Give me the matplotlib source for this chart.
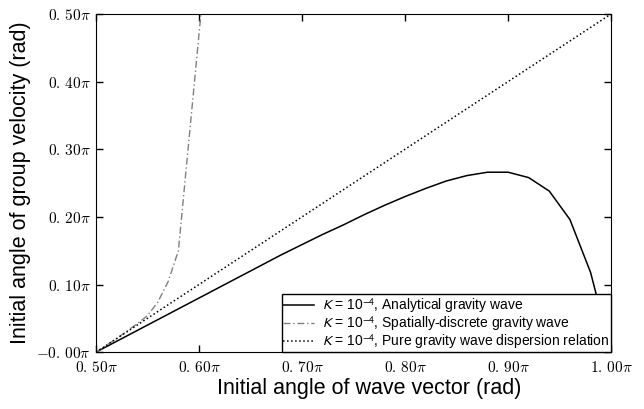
import matplotlib
matplotlib.use("Agg")
import matplotlib.pyplot as plt
from matplotlib.font_manager import FontProperties

plt.rcParams['font.family'] = ['Liberation Sans', 'DejaVu Sans']
plt.rcParams['mathtext.fontset'] = 'cm'

# analytical gravity wave (units of pi)
x_ana = [0.50, 0.52, 0.54, 0.56, 0.58, 0.60, 0.62, 0.64, 0.66, 0.68, 0.70,
         0.72, 0.74, 0.76, 0.78, 0.80, 0.82, 0.84, 0.86, 0.88, 0.90, 0.92,
         0.94, 0.96, 0.98, 1.00]
y_ana = [0.0, 0.016, 0.032, 0.048, 0.064, 0.080, 0.096, 0.112, 0.128, 0.144,
         0.159, 0.174, 0.188, 0.203, 0.217, 0.230, 0.242, 0.253, 0.261, 0.266,
         0.266, 0.258, 0.238, 0.196, 0.118, 0.0]

# spatially-discrete gravity wave
x_disc = [0.50, 0.51, 0.52, 0.53, 0.54, 0.55, 0.56, 0.57, 0.58, 0.59, 0.60, 0.605]
y_disc = [0.0, 0.010, 0.020, 0.031, 0.042, 0.054, 0.074, 0.104, 0.150, 0.310, 0.470, 0.55]

# pure gravity wave dispersion relation
x_pure = [0.50, 1.00]
y_pure = [0.0, 0.50]

xticks = [0.5, 0.6, 0.7, 0.8, 0.9, 1.0]
xticklabels = [r'$0.\,50\pi$', r'$0.\,60\pi$', r'$0.\,70\pi$', r'$0.\,80\pi$',
               r'$0.\,90\pi$', r'$1.\,00\pi$']
yticks = [0.0, 0.1, 0.2, 0.3, 0.4, 0.5]
yticklabels = [r'$-0.\,00\pi$', r'$0.\,10\pi$', r'$0.\,20\pi$', r'$0.\,30\pi$',
               r'$0.\,40\pi$', r'$0.\,50\pi$']

fig = plt.figure(figsize=(6.44, 4.09), dpi=100)
ax = fig.add_axes([0.149, 0.139, 0.800, 0.827])

ax.plot(x_ana, y_ana, 'k-', lw=1.1,
        label=r'$K$ = 10$^{-4}$, Analytical gravity wave')
ax.plot(x_disc, y_disc, color='0.5', lw=1.0, dashes=(5, 2, 1, 2),
        label=r'$K$ = 10$^{-4}$, Spatially-discrete gravity wave')
ax.plot(x_pure, y_pure, ':', color='k', lw=1.1,
        label=r'$K$ = 10$^{-4}$, Pure gravity wave dispersion relation')

ax.set_xlim(0.5, 1.0)
ax.set_ylim(0.0, 0.5)
ax.set_xticks(xticks)
ax.set_xticklabels(xticklabels, fontsize=11)
ax.set_yticks(yticks)
ax.set_yticklabels(yticklabels, fontsize=11)
ax.tick_params(direction='in', top=True, right=True, length=5, width=1)
ax.tick_params(axis='x', pad=6)

ax.set_xlabel('Initial angle of wave vector (rad)', fontsize=15.5)
ax.xaxis.set_label_coords(0.53, -0.075)
ax.set_ylabel('Initial angle of group velocity (rad)', fontsize=15.5, labelpad=4)

leg_font = FontProperties(family=['Liberation Sans', 'DejaVu Sans'], size=10,
                          math_fontfamily='stixsans')
leg = ax.legend(loc='lower right', prop=leg_font, fancybox=False,
                edgecolor='k', framealpha=1, borderaxespad=0,
                handlelength=2.2, labelspacing=-0.05, borderpad=0.1,
                handletextpad=0.6)
leg.get_frame().set_linewidth(1.0)

fig.savefig('out.png', dpi=100)
